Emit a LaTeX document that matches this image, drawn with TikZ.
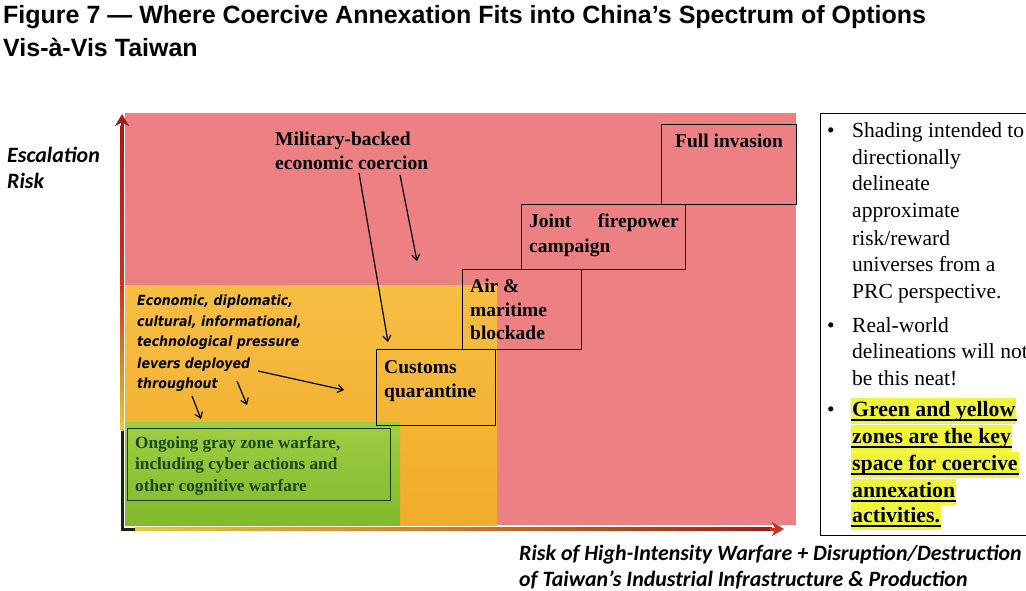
\documentclass[tikz,border=0pt]{standalone}
\usepackage{fontspec}
\setmainfont{Liberation Serif}
\newfontfamily\titlefont{Liberation Sans}
\newfontfamily\calfont{Carlito}
\newfontfamily\verfont{DejaVu Sans}[FakeStretch=0.9]
\usetikzlibrary{arrows.meta}
\definecolor{redz}{RGB}{236,128,130}
\definecolor{orzT}{RGB}{246,190,68}
\definecolor{orzB}{RGB}{242,172,42}
\definecolor{grzT}{RGB}{160,205,68}
\definecolor{grzB}{RGB}{128,186,44}
\definecolor{hl}{RGB}{240,245,60}
\definecolor{gtext}{RGB}{25,70,20}
\definecolor{axY}{RGB}{225,205,50}
\definecolor{axO}{RGB}{210,130,35}
\definecolor{axR1}{RGB}{200,50,35}
\definecolor{axR2}{RGB}{165,25,25}
\definecolor{axK}{RGB}{30,35,10}
\tikzset{
  tt/.style={anchor=base west, inner sep=0pt},
  bt/.style={anchor=base west, inner sep=0pt, font=\bfseries\fontsize{19.5}{24}\selectfont},
  gt/.style={anchor=base west, inner sep=0pt, text=gtext, font=\bfseries\fontsize{17.2}{20}\selectfont},
  it/.style={anchor=base west, inner sep=0pt, font=\verfont\bfseries\itshape\fontsize{14}{17}\selectfont},
  pt/.style={anchor=base west, inner sep=0pt, font=\fontsize{21.5}{26}\selectfont},
  bul/.style={anchor=base, inner sep=0pt, font=\fontsize{21.5}{26}\selectfont},
  hlt/.style={anchor=base west, inner xsep=1pt, inner ysep=0pt, fill=hl, font=\bfseries\fontsize{21.8}{26}\selectfont},
  ul/.style={line width=2pt},
  box/.style={draw, line width=0.9pt, anchor=north west, inner sep=0pt},
  arr/.style={line width=1.2pt, -{Straight Barb[length=5.5pt,width=8pt]}},
  axl/.style={anchor=base west, inner sep=0pt, font=\calfont\bfseries\itshape\fontsize{21.9}{26}\selectfont},
}
\begin{document}
\begin{tikzpicture}[x=1pt,y=-1pt]
\useasboundingbox (0,0) rectangle (1026,591);
\clip (0,0) rectangle (1026,591);
\fill[white] (0,0) rectangle (1026,591);

% title
\node[tt, font=\titlefont\bfseries\fontsize{25}{30}\selectfont] (title1) at (3,24) {Figure 7 — Where Coercive Annexation Fits into China’s Spectrum of Options};
\node[tt, font=\titlefont\bfseries\fontsize{25}{30}\selectfont] (title2) at (3,57) {Vis-à-Vis Taiwan};

% zones
\fill[redz] (125,113) rectangle (796,525);
\shade[top color=orzT, bottom color=orzB] (125,285) rectangle (497,525);
\shade[top color=grzT, bottom color=grzB] (125,422) rectangle (400,525);

% y axis
\fill[axK] (120.5,430) rectangle (123.5,530.5);
\shade[top color=axR1, bottom color=axY] (120.5,285) rectangle (123.5,430);
\shade[top color=axR2, bottom color=axR1] (120.5,126) rectangle (123.5,285);
\coordinate (ybase) at (122,128);
\coordinate (ytip) at (122,114);
\draw[axR2, line width=3pt, -{Stealth[length=12pt,width=14pt,inset=3.5pt]}] (ybase) -- (ytip);

% x axis
\fill[axK] (120.5,527.5) rectangle (135,530.5);
\shade[left color=axY, right color=axO] (135,527.5) rectangle (420,530.5);
\shade[left color=axO, right color=axR2] (420,527.5) rectangle (772,530.5);
\coordinate (xbase) at (770,529);
\coordinate (xtip) at (784,529);
\draw[axR1, line width=3pt, -{Stealth[length=12pt,width=14pt,inset=3.5pt]}] (xbase) -- (xtip);

% axis labels
\node[axl] (ylab1) at (7,163) {Escalation};
\node[axl] (ylab2) at (7,189) {Risk};
\node[axl] (xlab1) at (519,560) {Risk of High-Intensity Warfare + Disruption/Destruction};
\node[axl] (xlab2) at (519,586) {of Taiwan’s Industrial Infrastructure \& Production};

% option boxes
\node[box, minimum width=135pt, minimum height=80pt] (full) at (661,124) {};
\node[box, minimum width=164pt, minimum height=65pt] (joint) at (521,204) {};
\node[box, minimum width=119pt, minimum height=80pt] (air) at (462,269) {};
\node[box, minimum width=119pt, minimum height=76pt] (customs) at (376,349) {};
\node[box, draw=gtext!80!black, minimum width=263pt, minimum height=72pt] (gray) at (127,428) {};

\node[bt] (tfull) at (675,148) {Full invasion};
\node[bt] (tjoint1) at (529,227) {Joint};
\node[bt, anchor=base east] (tjoint2) at (679,227) {firepower};
\node[bt] (tjoint3) at (529,252) {campaign};
\node[bt] (tair1) at (470,292) {Air \&};
\node[bt] (tair2) at (470,316) {maritime};
\node[bt] (tair3) at (470,339) {blockade};
\node[bt] (tcus1) at (384,373) {Customs};
\node[bt] (tcus2) at (384,397) {quarantine};
\node[bt] (tmil1) at (275,146) {Military-backed};
\node[bt] (tmil2) at (275,170) {economic coercion};

\node[gt] (tg1) at (135,448) {Ongoing gray zone warfare,};
\node[gt] (tg2) at (135,469) {including cyber actions and};
\node[gt] (tg3) at (135,491) {other cognitive warfare};

\node[it] (te1) at (137,305) {Economic, diplomatic,};
\node[it] (te2) at (137,326) {cultural, informational,};
\node[it] (te3) at (137,346) {technological pressure};
\node[it] (te4) at (137,368) {levers deployed};
\node[it] (te5) at (137,388) {throughout};

% arrows
\coordinate (a1s) at (359,173); \coordinate (a1e) at (388,342);
\coordinate (a2s) at (400,175); \coordinate (a2e) at (417,261);
\coordinate (a3s) at (258,371); \coordinate (a3e) at (344,390);
\coordinate (a4s) at (237,381); \coordinate (a4e) at (247,405);
\coordinate (a5s) at (192,396); \coordinate (a5e) at (201,419);
\draw[arr] (a1s) -- (a1e);
\draw[arr] (a2s) -- (a2e);
\draw[arr] (a3s) -- (a3e);
\draw[arr] (a4s) -- (a4e);
\draw[arr] (a5s) -- (a5e);

% right panel
\node[box, line width=0.8pt, fill=white, minimum width=230pt, minimum height=422pt] (panel) at (820,113) {};
\node[bul] (b1) at (831,138) {•};
\node[bul] (b2) at (831,332) {•};
\node[bul] (b3) at (831,416) {•};
\node[pt] (p1) at (852,138) {Shading intended to};
\node[pt] (p2) at (852,165) {directionally};
\node[pt] (p3) at (852,191) {delineate};
\node[pt] (p4) at (852,218) {approximate};
\node[pt] (p5) at (852,245) {risk/reward};
\node[pt] (p6) at (852,271) {universes from a};
\node[pt] (p7) at (852,298) {PRC perspective.};
\node[pt] (p8) at (852,332) {Real-world};
\node[pt] (p9) at (852,358) {delineations will not};
\node[pt] (p10) at (852,385) {be this neat!};
\node[hlt] (h1) at (851,416) {\strut Green and yellow};
\node[hlt] (h2) at (851,443) {\strut zones are the key};
\node[hlt] (h3) at (851,470) {\strut space for coercive};
\node[hlt] (h4) at (851,497) {\strut annexation};
\node[hlt] (h5) at (851,522) {\strut activities.};
\foreach \h in {h1,h2,h3,h4,h5}{
  \draw[ul] ([yshift=-4pt]\h.base west) -- ([yshift=-4pt]\h.base east);
}
\end{tikzpicture}
\end{document}
